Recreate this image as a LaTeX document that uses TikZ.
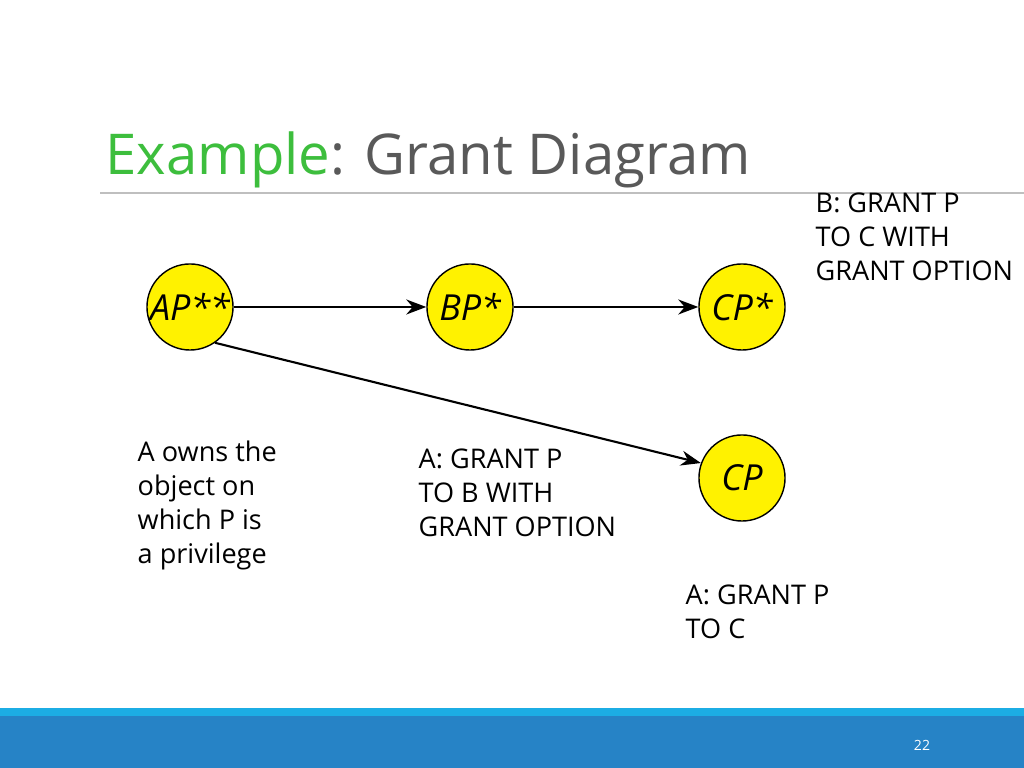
\documentclass[tikz,border=0pt]{standalone}
\usepackage{fontspec}
\setmainfont{Open Sans}
\usetikzlibrary{arrows.meta}
\definecolor{titlegreen}{HTML}{3DBE3D}
\definecolor{titlegray}{HTML}{595959}
\definecolor{barlight}{HTML}{1CADE4}
\definecolor{bardark}{HTML}{2683C6}
\tikzset{
  priv/.style={draw,circle,fill=yellow,minimum size=0.86cm,inner sep=0pt,
    font=\fontsize{10.2}{12}\itshape\selectfont},
  note/.style={anchor=north west,inner sep=0pt,align=left,
    font=\fontsize{7.7}{9.7}\selectfont},
  grant/.style={-{Stealth[length=2mm,width=1.5mm]},semithick}
}
\begin{document}
\begin{tikzpicture}[x=0.01cm,y=-0.01cm]
  \useasboundingbox (0,0) rectangle (1024,768);
  \fill[barlight] (0,708) rectangle (1024,716);
  \fill[bardark] (0,716) rectangle (1024,768);
  \node[white,font=\fontsize{4}{5}\selectfont] (page) at (922,745) {22};
  \draw[gray!50] (100,193) -- (1024,193);
  \node[anchor=base west,inner sep=0pt,font=\fontsize{16}{19}\selectfont] (title) at (105,175)
    {\textcolor{titlegreen}{Example}\textcolor{titlegray}{: Grant Diagram}};
  %
  \node[priv] (ap) at (190,307) {AP**};
  \node[priv] (bp) at (470,307) {BP*};
  \node[priv] (cps) at (742,307) {CP*};
  \node[priv] (cp) at (742,478) {CP};
  %
  \draw[grant] (ap) -- (bp);
  \draw[grant] (bp) -- (cps);
  \draw[grant] (ap.-55) -- (cp.160);
  %
  \node[note] (bnote) at (815,192) {B: GRANT P\\TO C WITH\\GRANT OPTION};
  \node[note] (anote) at (137,440) {A owns the\\object on\\which P is\\a privilege};
  \node[note] (abnote) at (418,448) {A: GRANT P\\TO B WITH\\GRANT OPTION};
  \node[note] (acnote) at (685,584) {A: GRANT P\\TO C};
\end{tikzpicture}
\end{document}
